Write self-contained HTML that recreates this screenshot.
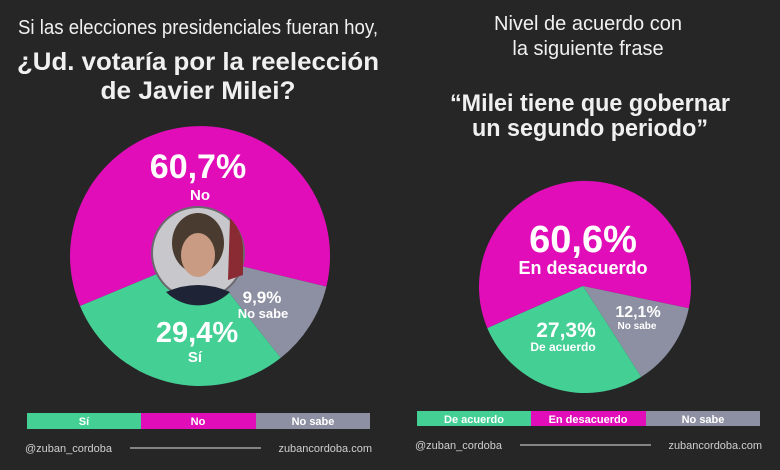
<!DOCTYPE html>
<html><head><meta charset="utf-8"><style>
html,body{margin:0;padding:0;background:#262626;}
svg{display:block;font-family:"Liberation Sans",sans-serif;}
</style></head><body>
<svg width="780" height="470" viewBox="0 0 780 470" xmlns="http://www.w3.org/2000/svg">
<rect width="780" height="470" fill="#262626"/>
<g fill="#f0f0f0" text-anchor="middle">
<text x="198" y="34" font-size="20" textLength="360" lengthAdjust="spacingAndGlyphs">Si las elecciones presidenciales fueran hoy,</text>
<text x="198" y="70" font-size="25" font-weight="bold" textLength="362" lengthAdjust="spacingAndGlyphs">¿Ud. votaría por la reelección</text>
<text x="198" y="99" font-size="25" font-weight="bold" textLength="195" lengthAdjust="spacingAndGlyphs">de Javier Milei?</text>
<text x="588" y="30" font-size="20">Nivel de acuerdo con</text>
<text x="588" y="55" font-size="20">la siguiente frase</text>
<text x="590" y="111" font-size="24" font-weight="bold" textLength="280" lengthAdjust="spacingAndGlyphs">“Milei tiene que gobernar</text>
<text x="590" y="136" font-size="24" font-weight="bold" textLength="236" lengthAdjust="spacingAndGlyphs">un segundo periodo”</text>
</g>
<!-- left pie -->
<path d="M200,256 L80,306 A130,130 0 1 1 326.4,286.6 Z" fill="#e00db8"/>
<path d="M200,256 L326.4,286.6 A130,130 0 0 1 280.7,357.9 Z" fill="#8d90a2"/>
<path d="M200,256 L280.7,357.9 A130,130 0 0 1 80,306 Z" fill="#44cf95"/>
<circle cx="198" cy="253" r="47" fill="#6a6a6e"/>
<circle cx="198" cy="253" r="45" fill="#c8c8cc"/>
<path d="M230,218 A45,45 0 0 1 243,253 L243,275 L228,280 Z" fill="#8a2b33"/>
<ellipse cx="198" cy="243" rx="26" ry="30" fill="#4a3b30"/>
<ellipse cx="198" cy="255" rx="17" ry="22" fill="#c89b82"/>
<path d="M166,292 Q198,278 230,292 A45,45 0 0 1 166,292 Z" fill="#1e2436"/>
<g fill="#fff" text-anchor="middle" font-weight="bold">
<text x="198" y="178" font-size="34">60,7%</text>
<text x="200" y="200" font-size="15">No</text>
<text x="197" y="342" font-size="29">29,4%</text>
<text x="195" y="362" font-size="15">Sí</text>
<text x="262" y="303" font-size="17">9,9%</text>
<text x="263" y="318" font-size="13">No sabe</text>
</g>
<!-- right pie -->
<path d="M583,286 L487.3,328.1 A106,106 0 1 1 688.8,308.3 Z" fill="#e00db8"/>
<path d="M583,286 L688.8,308.3 A106,106 0 0 1 641.2,376.9 Z" fill="#8d90a2"/>
<path d="M583,286 L641.2,376.9 A106,106 0 0 1 487.3,328.1 Z" fill="#44cf95"/>
<g fill="#fff" text-anchor="middle" font-weight="bold">
<text x="583" y="252" font-size="38">60,6%</text>
<text x="583" y="274" font-size="18">En desacuerdo</text>
<text x="566" y="337" font-size="21">27,3%</text>
<text x="563" y="351" font-size="12">De acuerdo</text>
<text x="638" y="317" font-size="16">12,1%</text>
<text x="637" y="329" font-size="10">No sabe</text>
</g>
<!-- legends -->
<rect x="27" y="413" width="114" height="16" fill="#44cf95"/>
<rect x="141" y="413" width="115" height="16" fill="#e00db8"/>
<rect x="256" y="413" width="114" height="16" fill="#8d90a2"/>
<rect x="417" y="411" width="114" height="15" fill="#44cf95"/>
<rect x="531" y="411" width="115" height="15" fill="#e00db8"/>
<rect x="646" y="411" width="114" height="15" fill="#8d90a2"/>
<g fill="#fff" text-anchor="middle" font-size="11" font-weight="bold">
<text x="84" y="425">Sí</text>
<text x="198" y="425">No</text>
<text x="313" y="425">No sabe</text>
<text x="474" y="423">De acuerdo</text>
<text x="588" y="423">En desacuerdo</text>
<text x="703" y="423">No sabe</text>
</g>
<g fill="#cfcfcf" font-size="11">
<text x="25" y="452">@zuban_cordoba</text>
<text x="372" y="452" text-anchor="end">zubancordoba.com</text>
<text x="415" y="449">@zuban_cordoba</text>
<text x="762" y="449" text-anchor="end">zubancordoba.com</text>
</g>
<line x1="130" y1="448" x2="261" y2="448" stroke="#bdbdbd" stroke-width="1.2"/>
<line x1="520" y1="445" x2="651" y2="445" stroke="#bdbdbd" stroke-width="1.2"/>
</svg>
</body></html>
